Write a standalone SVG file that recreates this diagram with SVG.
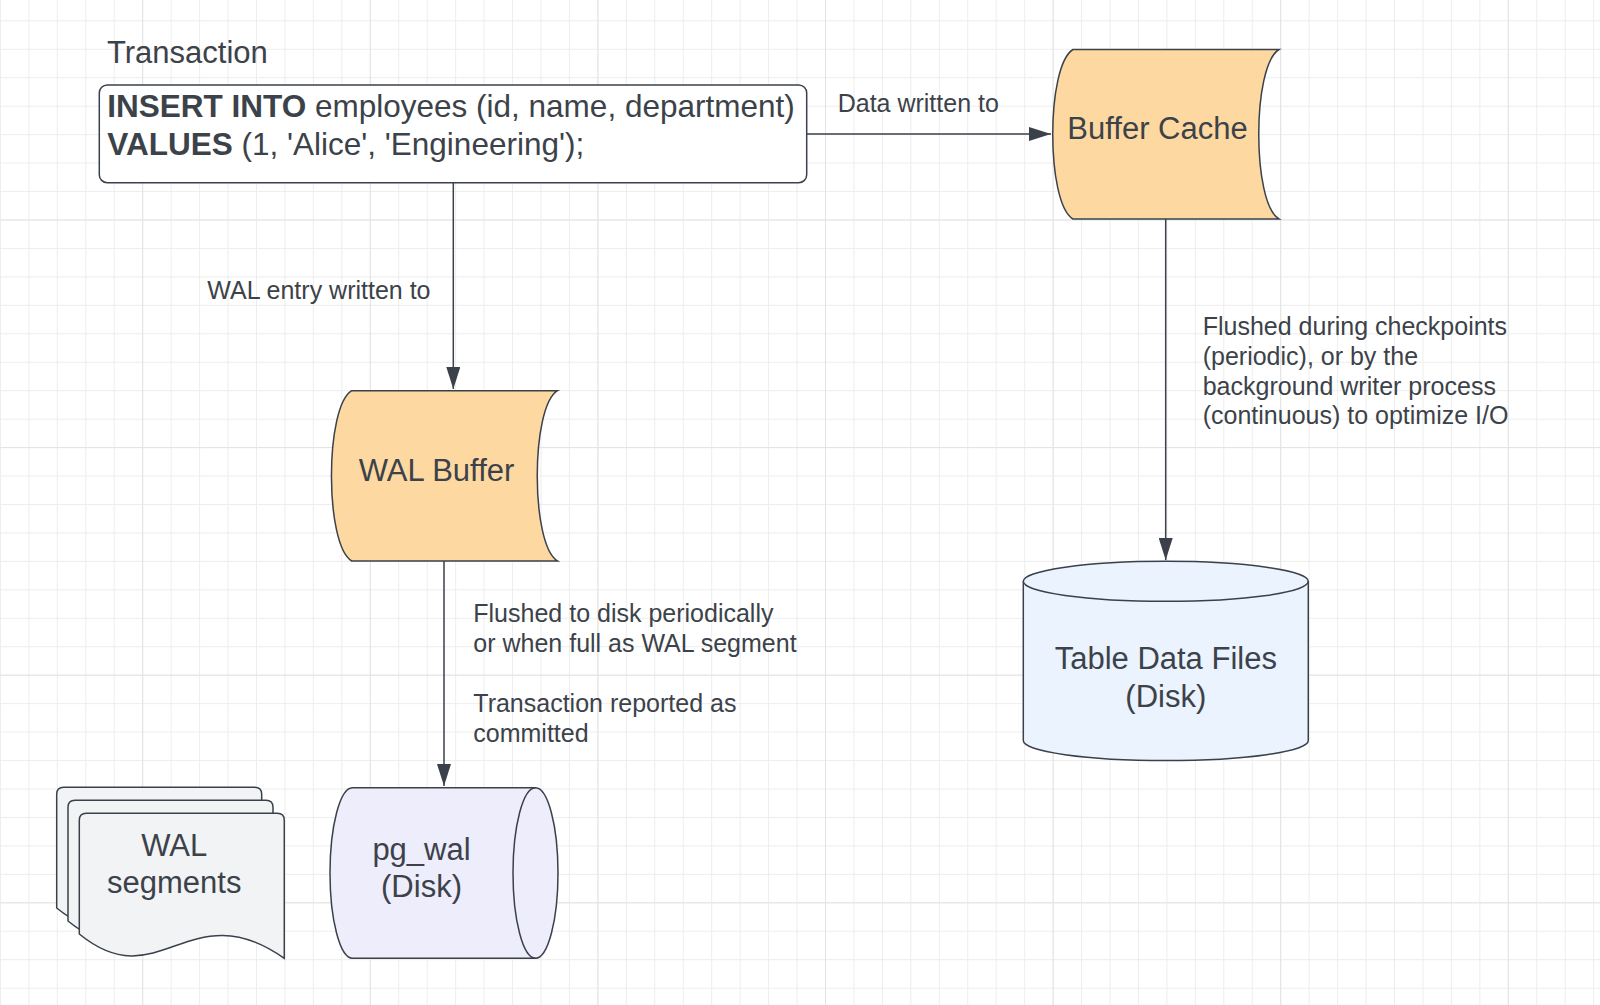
<svg xmlns="http://www.w3.org/2000/svg" xmlns:xlink="http://www.w3.org/1999/xlink" width="1600" height="1005" viewBox="0 0 1600 1005">
<style>
text{font-family:"Liberation Sans",Arial,sans-serif;fill:#3c4249}
.big{font-size:31px}
.sql{font-size:31.5px}
.lbl{font-size:25px}
.shape{stroke:#3a414a;stroke-width:1.5}
.conn{stroke:#3a414a;stroke-width:1.5;fill:none}
</style>
<defs>
<pattern id="minor" width="28.45" height="28.45" patternUnits="userSpaceOnUse" x="-0.05" y="20.35">
<path d="M0.5,0 V28.45 M0,0.5 H28.45" stroke="#ededed" stroke-width="1" fill="none"/>
</pattern>
<pattern id="major" width="227.6" height="227.6" patternUnits="userSpaceOnUse" x="142.2" y="219.5">
<path d="M0.5,0 V227.6 M0,0.5 H227.6" stroke="#e3e3e3" stroke-width="1" fill="none"/>
</pattern>
<marker id="arr" viewBox="0 0 22 14" refX="22" refY="7" markerWidth="22" markerHeight="14" markerUnits="userSpaceOnUse" orient="auto">
<path d="M0,0 L22,7 L0,14 Z" fill="#3a414a"/>
</marker>
<path id="doc" d="M0,120.7 L0,7 Q0,0 7,0 L198,0 Q205,0 205,7 L205,145 C110,78 80,186 0,120.7 Z"/>
</defs>
<rect width="1600" height="1005" fill="#ffffff"/>
<rect width="1600" height="1005" fill="url(#minor)"/>
<rect width="1600" height="1005" fill="url(#major)"/>

<g id="connectors">
<line class="conn" x1="806.7" y1="134" x2="1051" y2="134" marker-end="url(#arr)"/>
<line class="conn" x1="453.3" y1="182.7" x2="453.3" y2="389" marker-end="url(#arr)"/>
<line class="conn" x1="1165.7" y1="219" x2="1165.7" y2="560" marker-end="url(#arr)"/>
<line class="conn" x1="444" y1="561" x2="444" y2="786" marker-end="url(#arr)"/>
<text class="lbl" x="837.7" y="111.7">Data written to</text>
<text class="lbl" x="207.3" y="299.3">WAL entry written to</text>
<text class="lbl" x="1202.7" y="335">Flushed during checkpoints</text>
<text class="lbl" x="1202.7" y="364.7">(periodic), or by the</text>
<text class="lbl" x="1202.7" y="394.5">background writer process</text>
<text class="lbl" x="1202.7" y="424">(continuous) to optimize I/O</text>
<text class="lbl" x="473.3" y="621.7">Flushed to disk periodically</text>
<text class="lbl" x="473.3" y="651.7">or when full as WAL segment</text>
<text class="lbl" x="473.3" y="711.7">Transaction reported as</text>
<text class="lbl" x="473.3" y="741.7">committed</text>
</g>

<g id="transaction">
<text class="big" x="107" y="63.3">Transaction</text>
<rect class="shape" x="99.3" y="85" width="707.4" height="97.7" rx="8" fill="#ffffff"/>
<text class="sql" x="107.3" y="117.3"><tspan font-weight="bold">INSERT INTO</tspan> employees (id, name, department)</text>
<text class="sql" x="107.3" y="155"><tspan font-weight="bold">VALUES</tspan> (1, 'Alice', 'Engineering');</text>
</g>

<g id="buffer-cache">
<path class="shape" fill="#fdd9a1" d="M1073,49.5 L1279,49.5 C1252,66 1252,203 1279,219 L1073,219 C1046,203 1046,66 1073,49.5 Z"/>
<text class="big" x="1157.5" y="139" text-anchor="middle">Buffer Cache</text>
</g>

<g id="wal-buffer">
<path class="shape" fill="#fdd9a1" d="M351.7,390.7 L557.5,390.7 C530.5,407 530.5,545 557.5,561 L351.7,561 C324.7,545 324.7,407 351.7,390.7 Z"/>
<text class="big" x="436.5" y="480.7" text-anchor="middle">WAL Buffer</text>
</g>

<g id="table-data-files">
<path class="shape" fill="#eaf3fe" d="M1023.3,581.3 A142.5,20 0 0 1 1308.3,581.3 L1308.3,740.5 A142.5,20 0 0 1 1023.3,740.5 Z"/>
<path class="shape" fill="none" d="M1023.3,581.3 A142.5,20 0 0 0 1308.3,581.3"/>
<text class="big" x="1165.8" y="669" text-anchor="middle">Table Data Files</text>
<text class="big" x="1165.8" y="706.7" text-anchor="middle">(Disk)</text>
</g>

<g id="pg-wal">
<path class="shape" fill="#eeedfc" d="M352.5,787.7 L535.5,787.7 A22.5,85.3 0 0 1 535.5,958.3 L352.5,958.3 A22.5,85.3 0 0 1 352.5,787.7 Z"/>
<path class="shape" fill="none" d="M535.5,787.7 A22.5,85.3 0 0 0 535.5,958.3"/>
<text class="big" x="421.5" y="860" text-anchor="middle">pg_wal</text>
<text class="big" x="421.5" y="896.7" text-anchor="middle">(Disk)</text>
</g>

<g id="wal-segments">
<use href="#doc" xlink:href="#doc" x="56.7" y="787.3" class="shape" fill="#f2f3f5"/>
<use href="#doc" xlink:href="#doc" x="68" y="800.3" class="shape" fill="#f2f3f5"/>
<use href="#doc" xlink:href="#doc" x="79.3" y="813.3" class="shape" fill="#f2f3f5"/>
<text class="big" x="174.2" y="856" text-anchor="middle">WAL</text>
<text class="big" x="174.2" y="893.3" text-anchor="middle">segments</text>
</g>
</svg>
